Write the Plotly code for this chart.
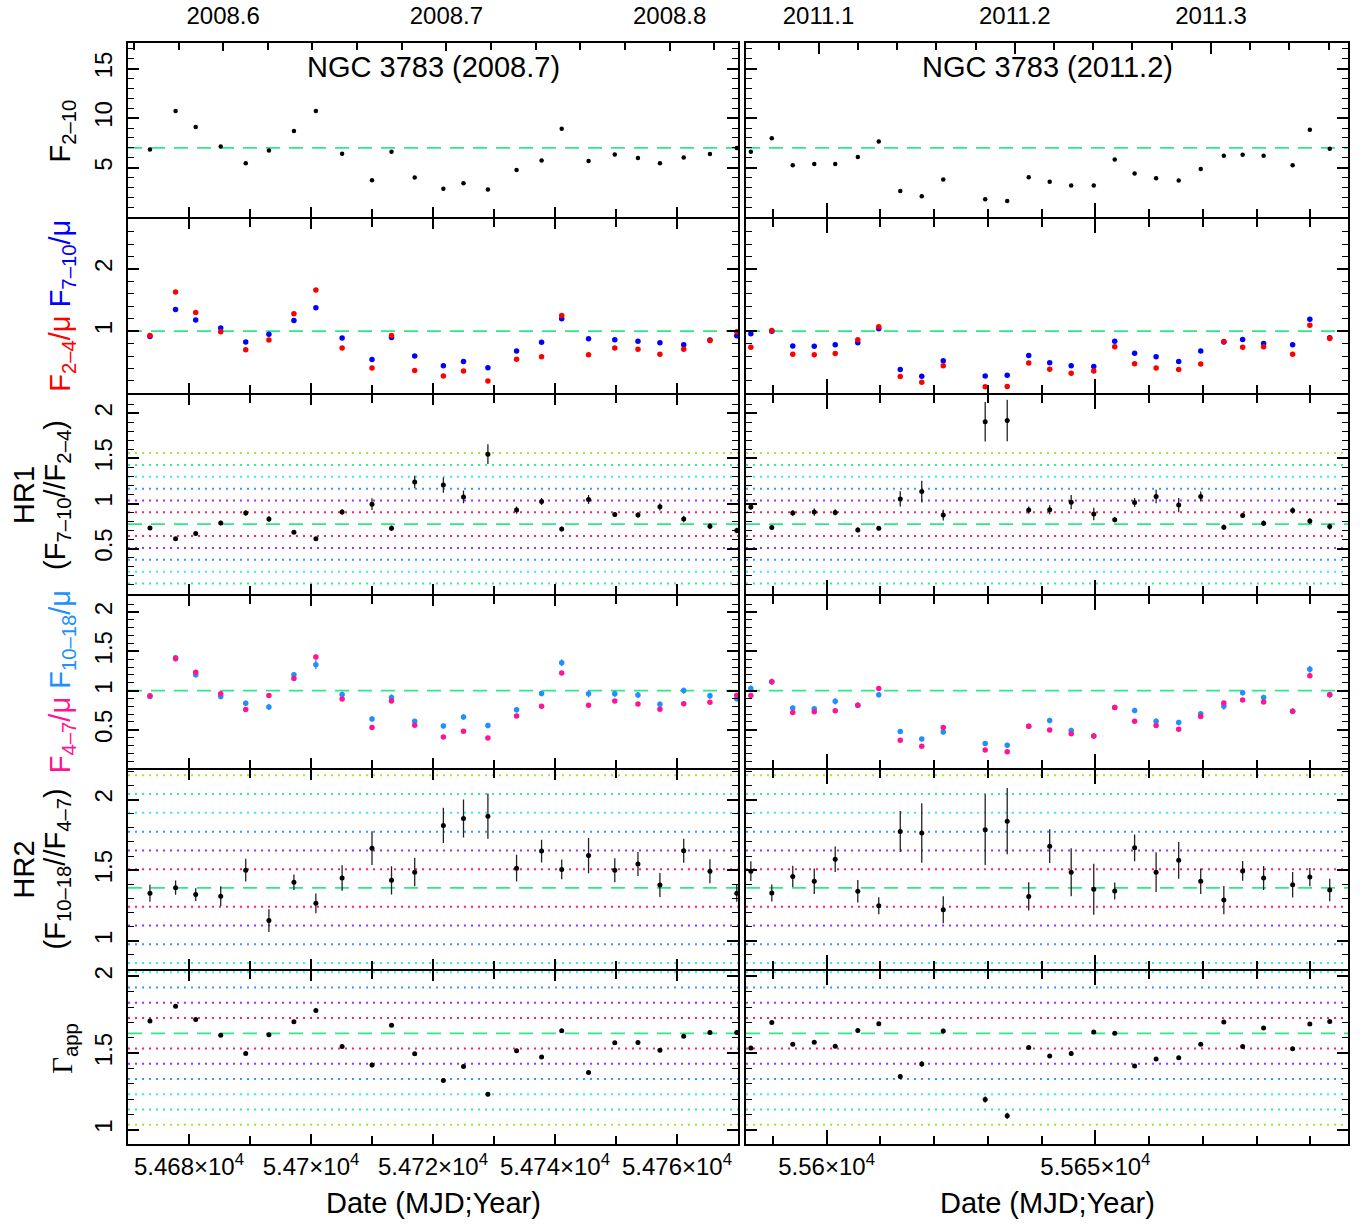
import plotly.graph_objects as go

# ---------------- data ----------------
mjd_2008 = [54673.6, 54677.8, 54681.1, 54685.2, 54689.3, 54693.1, 54697.2, 54700.8, 54705.1,
            54710.0, 54713.2, 54717.0, 54721.7, 54725.0, 54729.0, 54733.7, 54737.8, 54741.1,
            54745.5, 54749.8, 54753.6, 54757.2, 54761.1, 54765.4, 54769.8]
mjd_2011 = [55585.9, 55589.8, 55593.7, 55597.7, 55601.6, 55605.8, 55609.7, 55613.7, 55617.7,
            55621.7, 55629.5, 55633.6, 55637.6, 55641.5, 55645.5, 55649.7, 55653.6, 55657.3,
            55661.3, 55665.5, 55669.6, 55673.9, 55677.4, 55681.3, 55686.7, 55689.9, 55693.6]

# F(2-10)
f210_2008 = [6.83, 10.73, 9.1, 7.13, 5.43, 6.73, 8.7, 10.73, 6.4, 3.73, 6.6, 4.0, 2.87, 3.43, 2.8,
             4.77, 5.73, 8.93, 5.67, 6.33, 5.97, 5.43, 6.03, 6.37, 6.97]
f210_2011 = [6.6, 7.97, 5.23, 5.37, 5.37, 6.07, 7.63, 2.63, 2.1, 3.8, 1.8, 1.63, 4.03, 3.57, 3.2,
             3.2, 5.83, 4.4, 3.93, 3.7, 4.87, 6.2, 6.3, 6.2, 5.23, 8.83, 6.9]

# F(2-4)/mu (red) and F(7-10)/mu (blue)
f24_2008 = [0.93, 1.63, 1.30, 0.99, 0.70, 0.86, 1.28, 1.66, 0.73, 0.41, 0.93, 0.37, 0.28, 0.36, 0.20,
            0.55, 0.59, 1.25, 0.62, 0.73, 0.71, 0.63, 0.71, 0.85, 0.99]
f24_2008_err = [0.02, 0.03, 0.03, 0.025, 0.02, 0.02, 0.03, 0.035, 0.02, 0.02, 0.03, 0.015, 0.015,
                0.015, 0.015, 0.015, 0.02, 0.035, 0.02, 0.02, 0.02, 0.025, 0.02, 0.02, 0.02]
f710_2008 = [0.915, 1.35, 1.18, 1.05, 0.825, 0.95, 1.17, 1.375, 0.89, 0.545, 0.90, 0.60, 0.444, 0.513,
             0.413, 0.683, 0.82, 1.20, 0.878, 0.862, 0.836, 0.815, 0.783, 0.857, 0.926]
f710_2008_err = [0.02, 0.03, 0.025, 0.025, 0.02, 0.025, 0.025, 0.03, 0.02, 0.02, 0.025, 0.02, 0.02,
                 0.02, 0.02, 0.02, 0.02, 0.03, 0.025, 0.02, 0.02, 0.02, 0.02, 0.02, 0.02]
f24_2011 = [0.74, 1.01, 0.63, 0.62, 0.64, 0.862, 1.069, 0.27, 0.18, 0.444, 0.106, 0.111, 0.487, 0.39,
            0.323, 0.36, 0.751, 0.476, 0.407, 0.386, 0.471, 0.835, 0.74, 0.75, 0.63, 1.095, 0.884]
f24_2011_err = [0.02, 0.03, 0.02, 0.02, 0.02, 0.025, 0.03, 0.015, 0.015, 0.015, 0.01, 0.01, 0.02,
                0.015, 0.015, 0.015, 0.02, 0.02, 0.015, 0.015, 0.02, 0.025, 0.02, 0.02, 0.02, 0.03, 0.025]
f710_2011 = [0.958, 1.0, 0.762, 0.757, 0.783, 0.815, 1.037, 0.386, 0.275, 0.524, 0.28, 0.29, 0.608,
             0.492, 0.444, 0.434, 0.836, 0.646, 0.587, 0.513, 0.683, 0.825, 0.868, 0.80, 0.783, 1.19, 0.894]
f710_2011_err = [0.025, 0.03, 0.02, 0.02, 0.02, 0.025, 0.03, 0.02, 0.02, 0.025, 0.02, 0.02, 0.025,
                 0.02, 0.02, 0.02, 0.025, 0.02, 0.02, 0.02, 0.025, 0.025, 0.025, 0.02, 0.025, 0.035, 0.025]

# HR1 = F(7-10)/F(2-4)
hr1_2008 = [0.729, 0.609, 0.667, 0.784, 0.894, 0.828, 0.682, 0.609, 0.905, 0.993, 0.726, 1.238,
            1.205, 1.073, 1.548, 0.927, 1.022, 0.718, 1.044, 0.879, 0.872, 0.963, 0.828, 0.748, 0.70]
hr1_2008_err = [0.02, 0.02, 0.02, 0.025, 0.03, 0.03, 0.02, 0.02, 0.03, 0.065, 0.03, 0.07, 0.085,
                0.07, 0.11, 0.04, 0.04, 0.025, 0.05, 0.025, 0.03, 0.04, 0.035, 0.035, 0.03]
hr1_2011 = [0.96, 0.733, 0.894, 0.905, 0.901, 0.707, 0.726, 1.051, 1.132, 0.872, 1.907, 1.921, 0.927,
            0.931, 1.015, 0.883, 0.821, 1.011, 1.077, 0.982, 1.077, 0.737, 0.868, 0.781, 0.923, 0.806, 0.744]
hr1_2011_err = [0.03, 0.025, 0.03, 0.04, 0.035, 0.03, 0.025, 0.085, 0.12, 0.06, 0.22, 0.23, 0.04,
                0.05, 0.08, 0.07, 0.03, 0.05, 0.075, 0.08, 0.055, 0.03, 0.03, 0.03, 0.035, 0.03, 0.035]

# F(4-7)/mu (pink) and F(10-18)/mu (light blue)
f47_2008 = [0.933, 1.404, 1.233, 0.958, 0.758, 0.938, 1.154, 1.429, 0.892, 0.529, 0.867, 0.558, 0.408,
            0.483, 0.396, 0.675, 0.80, 1.225, 0.8125, 0.867, 0.829, 0.762, 0.833, 0.85, 0.94]
f47_2008_err = [0.02, 0.03, 0.025, 0.02, 0.02, 0.02, 0.025, 0.03, 0.02, 0.015, 0.02, 0.015, 0.015,
                0.015, 0.015, 0.02, 0.02, 0.025, 0.02, 0.02, 0.02, 0.02, 0.02, 0.02, 0.02]
f1018_2008 = [0.925, 1.417, 1.20, 0.925, 0.838, 0.792, 1.20, 1.33, 0.95, 0.638, 0.913, 0.608, 0.55,
              0.663, 0.554, 0.754, 0.963, 1.354, 0.958, 0.958, 0.942, 0.825, 1.0, 0.933, 0.896]
f1018_2008_err = [0.03, 0.04, 0.035, 0.035, 0.035, 0.04, 0.035, 0.06, 0.035, 0.035, 0.04, 0.03, 0.03,
                  0.035, 0.035, 0.035, 0.035, 0.045, 0.045, 0.04, 0.04, 0.035, 0.04, 0.04, 0.035]
f47_2011 = [0.9375, 1.1125, 0.721, 0.729, 0.742, 0.8125, 1.025, 0.367, 0.292, 0.529, 0.242, 0.221,
            0.546, 0.496, 0.45, 0.42, 0.783, 0.608, 0.554, 0.508, 0.671, 0.842, 0.879, 0.854, 0.7375,
            1.1875, 0.946]
f47_2011_err = [0.02, 0.025, 0.02, 0.02, 0.02, 0.02, 0.025, 0.015, 0.015, 0.02, 0.015, 0.015, 0.02,
                0.015, 0.015, 0.015, 0.02, 0.02, 0.015, 0.015, 0.02, 0.02, 0.02, 0.02, 0.02, 0.025, 0.02]
f1018_2011 = [1.025, 1.1125, 0.779, 0.767, 0.8625, 0.8125, 0.946, 0.479, 0.383, 0.471, 0.325, 0.304,
              0.546, 0.617, 0.492, 0.42, 0.783, 0.746, 0.608, 0.592, 0.704, 0.80, 0.971, 0.9125, 0.7375,
              1.271, 0.946]
f1018_2011_err = [0.04, 0.04, 0.03, 0.03, 0.04, 0.035, 0.035, 0.03, 0.03, 0.03, 0.03, 0.03, 0.03,
                  0.035, 0.035, 0.035, 0.025, 0.035, 0.035, 0.035, 0.03, 0.045, 0.035, 0.035, 0.035, 0.045, 0.04]

# HR2 = F(10-18)/F(4-7)
hr2_2008 = [1.337, 1.376, 1.327, 1.316, 1.50, 1.143, 1.414, 1.265, 1.444, 1.656, 1.428, 1.486, 1.817,
            1.866, 1.882, 1.514, 1.635, 1.505, 1.603, 1.50, 1.544, 1.395, 1.638, 1.493, 1.337]
hr2_2008_err = [0.06, 0.05, 0.045, 0.07, 0.08, 0.08, 0.055, 0.07, 0.09, 0.12, 0.1, 0.1, 0.125, 0.135,
                0.16, 0.095, 0.08, 0.07, 0.125, 0.085, 0.085, 0.085, 0.085, 0.085, 0.06]
hr2_2011 = [1.493, 1.339, 1.456, 1.421, 1.577, 1.351, 1.248, 1.773, 1.763, 1.22, 1.787, 1.847, 1.314,
            1.67, 1.486, 1.365, 1.353, 1.658, 1.486, 1.57, 1.421, 1.288, 1.495, 1.444, 1.397, 1.451, 1.36]
hr2_2011_err = [0.07, 0.06, 0.075, 0.09, 0.09, 0.08, 0.06, 0.145, 0.21, 0.095, 0.25, 0.235, 0.1, 0.12,
                0.17, 0.18, 0.06, 0.095, 0.14, 0.13, 0.09, 0.1, 0.07, 0.085, 0.09, 0.065, 0.08]

# apparent photon index
gam_2008 = [1.709, 1.805, 1.719, 1.616, 1.498, 1.62, 1.704, 1.777, 1.543, 1.423, 1.681, 1.496, 1.321,
            1.412, 1.231, 1.515, 1.474, 1.646, 1.373, 1.567, 1.569, 1.519, 1.61, 1.635, 1.635]
gam_2008_err = [0.01, 0.01, 0.01, 0.01, 0.01, 0.01, 0.01, 0.01, 0.01, 0.015, 0.01, 0.012, 0.012,
                0.012, 0.012, 0.01, 0.01, 0.01, 0.012, 0.01, 0.01, 0.01, 0.01, 0.01, 0.01]
gam_2011 = [1.534, 1.70, 1.558, 1.571, 1.545, 1.648, 1.691, 1.347, 1.429, 1.644, 1.197, 1.091, 1.537,
            1.481, 1.498, 1.638, 1.629, 1.416, 1.461, 1.47, 1.558, 1.702, 1.543, 1.663, 1.528, 1.689, 1.706]
gam_2011_err = [0.01, 0.01, 0.01, 0.01, 0.01, 0.012, 0.01, 0.015, 0.02, 0.015, 0.02, 0.02, 0.01,
                0.012, 0.015, 0.012, 0.01, 0.01, 0.012, 0.012, 0.01, 0.01, 0.01, 0.01, 0.01, 0.01, 0.01]

# reference levels: mean (dashed) and the spacing of the dotted levels
row_means = [7.0, 1.0, 0.770, 1.0, 1.374, 1.629]
row_steps = [None, None, 0.1316, None, 0.1329, 0.0995]

# axis ranges and ticks
x_ranges = [[54670, 54770], [55585, 55697]]
x_ticks = [[54680, 54700, 54720, 54740, 54760], [55600, 55650]]
year_ticks = [[2008.6, 2008.7, 2008.8], [2011.1, 2011.2, 2011.3]]
y_ranges = [[0, 17.6], [0, 2.8], [0, 2.2], [0.015, 2.21], [0.8, 2.21], [0.905, 2.035]]
y_ticks = [[5, 10, 15], [1, 2], [0.5, 1, 1.5, 2], [0.5, 1, 1.5, 2], [1, 1.5, 2], [1, 1.5, 2]]
y_minor = [1, 0.2, 0.1, 0.1, 0.1, 0.1]

# ---------------- styling ----------------
W, H = 1366, 1227
FONT = "Liberation Sans, Arial, Helvetica, sans-serif"
RED, BLUE = "#ff0000", "#0000ff"
PINK, LBLUE = "#ff1493", "#1e90ff"
DASH_GREEN = "#2ee888"
SIG_COLORS = ["#ff2266", "#9933ff", "#3399ff", "#33eeee", "#33ee99", "#99ee33"]
LW = 2
col_px = [(128, 738), (746, 1348)]
row_edges = [38, 214, 391, 592, 767, 969, 1144]


def yr_2008(m):
    return 2008 + (m - 54466) / 366.0


def yr_2011(m):
    return 2011 + (m - 55562) / 365.0


yr_funcs = [yr_2008, yr_2011]


def xdom(c):
    a, b = col_px[c]
    return [a / W, b / W]


def ydom(r):
    # leave a line-width gap at shared row boundaries so the frame lines coincide
    t = row_edges[r] + (LW / 2 if r > 0 else 0)
    b = row_edges[r + 1] - (LW / 2 if r < 5 else 0)
    return [1 - b / H, 1 - t / H]


def ax_id(i):
    return "" if i == 1 else str(i)


fig = go.Figure()

mjds = [mjd_2008, mjd_2011]
series = [
    (0, [([f210_2008, f210_2011], None, "black", 4.5)]),
    (1, [([f710_2008, f710_2011], [f710_2008_err, f710_2011_err], BLUE, 5.5),
         ([f24_2008, f24_2011], [f24_2008_err, f24_2011_err], RED, 5.5)]),
    (2, [([hr1_2008, hr1_2011], [hr1_2008_err, hr1_2011_err], "black", 5)]),
    (3, [([f1018_2008, f1018_2011], [f1018_2008_err, f1018_2011_err], LBLUE, 5.5),
         ([f47_2008, f47_2011], [f47_2008_err, f47_2011_err], PINK, 5.5)]),
    (4, [([hr2_2008, hr2_2011], [hr2_2008_err, hr2_2011_err], "black", 5)]),
    (5, [([gam_2008, gam_2011], [gam_2008_err, gam_2011_err], "black", 5)]),
]

for r, sets in series:
    for c in range(2):
        i = r * 2 + c + 1
        for vals, errs, color, size in sets:
            err = None
            if errs is not None:
                ecol = "#222222" if color == "black" else color
                err = dict(type="data", array=errs[c], visible=True, width=0,
                           thickness=1.3, color=ecol)
            fig.add_trace(go.Scatter(
                x=mjds[c], y=vals[c], mode="markers",
                marker=dict(color=color, size=size, line=dict(width=0)),
                error_y=err, showlegend=False, hoverinfo="x+y",
                xaxis="x" + ax_id(i), yaxis="y" + ax_id(i)))

# empty traces to register the top (year) axes
fig.add_trace(go.Scatter(x=[], y=[], xaxis="x13", yaxis="y", showlegend=False))
fig.add_trace(go.Scatter(x=[], y=[], xaxis="x14", yaxis="y2", showlegend=False))

layout = dict(width=W, height=H, margin=dict(l=0, r=0, t=0, b=0),
              paper_bgcolor="white", plot_bgcolor="white", showlegend=False,
              font=dict(family=FONT, size=24, color="black"))

tickfont = dict(family=FONT, size=24, color="black")
shapes = []
for r in range(6):
    for c in range(2):
        i = r * 2 + c + 1
        xcfg = dict(
            domain=xdom(c), anchor="y" + ax_id(i), range=x_ranges[c],
            showgrid=False, zeroline=False, showline=True, linecolor="black", linewidth=LW,
            mirror=True if r == 0 else "ticks",
            ticks="inside", ticklen=10 if c == 0 else 14, tickwidth=1.6, tickcolor="black",
            tickmode="array", tickvals=x_ticks[c],
            ticktext=[f"{v / 1e4:g}×10<sup>4</sup>" for v in x_ticks[c]],
            showticklabels=(r == 5), tickfont=tickfont, ticklabelstandoff=0,
            minor=dict(dtick=10, tick0=0, ticks="inside", ticklen=8, tickwidth=1.6,
                       tickcolor="black", showgrid=False),
        )
        ycfg = dict(
            domain=ydom(r), anchor="x" + ax_id(i), range=y_ranges[r],
            showgrid=False, zeroline=False, showline=True, linecolor="black", linewidth=LW,
            mirror="ticks", ticks="inside", ticklen=11, tickwidth=1.6, tickcolor="black",
            tickmode="array", tickvals=y_ticks[r], ticktext=[f"{v:g}" for v in y_ticks[r]],
            showticklabels=(c == 0), tickangle=-90, tickfont=tickfont, ticklabelstandoff=4,
            minor=dict(dtick=y_minor[r], tick0=0, ticks="inside", ticklen=6, tickwidth=1.4,
                       tickcolor="black", showgrid=False),
        )
        layout["xaxis" + ax_id(i)] = xcfg
        layout["yaxis" + ax_id(i)] = ycfg

        xref = "x" + ax_id(i) + " domain"
        yref = "y" + ax_id(i)
        if row_steps[r] is not None:
            lo, hi = y_ranges[r]
            for k in range(1, 7):
                for sgn in (1, -1):
                    lvl = row_means[r] + sgn * k * row_steps[r]
                    if lo < lvl < hi:
                        shapes.append(dict(type="line", xref=xref, yref=yref, x0=0, x1=1,
                                           y0=lvl, y1=lvl, layer="below",
                                           line=dict(color=SIG_COLORS[k - 1], width=2,
                                                     dash="2px,5px")))
        shapes.append(dict(type="line", xref=xref, yref=yref, x0=0, x1=1,
                           y0=row_means[r], y1=row_means[r], layer="below",
                           line=dict(color=DASH_GREEN, width=1.8, dash="14px,9px")))

# top year axes
for c in range(2):
    base = "x" + ax_id(c + 1)
    f = yr_funcs[c]
    layout["xaxis" + str(13 + c)] = dict(
        overlaying=base, anchor="y" + ax_id(c + 1), side="top",
        range=[f(x_ranges[c][0]), f(x_ranges[c][1])],
        showgrid=False, zeroline=False, showline=False,
        ticks="inside", ticklen=11 if c == 1 else 8, tickwidth=1.6, tickcolor="black",
        tickmode="array", tickvals=year_ticks[c], ticktext=[f"{v:.1f}" for v in year_ticks[c]],
        tickfont=tickfont, ticklabelstandoff=13,
        minor=dict(dtick=0.02, tick0=2000, ticks="inside", ticklen=7, tickwidth=1.6,
                   tickcolor="black", showgrid=False),
    )

layout["shapes"] = shapes


def px_x(p):
    return p / W


def px_y(p):
    return 1 - p / H


TFS = 29
ann = []
ann.append(dict(text="NGC 3783 (2008.7)", x=px_x(433), y=px_y(62)))
ann.append(dict(text="NGC 3783 (2011.2)", x=px_x(1047), y=px_y(62)))
ann.append(dict(text="Date (MJD;Year)", x=px_x(433), y=px_y(1203)))
ann.append(dict(text="Date (MJD;Year)", x=px_x(1047), y=px_y(1203)))
ann.append(dict(text="F<sub>2–10</sub>", x=px_x(62), y=px_y(127), textangle=-90))
ann.append(dict(text=f"<span style='color:{RED}'>F<sub>2–4</sub>/μ</span> "
                     f"<span style='color:{BLUE}'>F<sub>7–10</sub>/μ</span>",
                x=px_x(62), y=px_y(302), textangle=-90))
ann.append(dict(text="HR1", x=px_x(24), y=px_y(492), textangle=-90))
ann.append(dict(text="(F<sub>7–10</sub>//F<sub>2–4</sub>)", x=px_x(57), y=px_y(492), textangle=-90))
ann.append(dict(text=f"<span style='color:{PINK}'>F<sub>4–7</sub>/μ</span> "
                     f"<span style='color:{LBLUE}'>F<sub>10–18</sub>/μ</span>",
                x=px_x(62), y=px_y(680), textangle=-90))
ann.append(dict(text="HR2", x=px_x(24), y=px_y(868), textangle=-90))
ann.append(dict(text="(F<sub>10–18</sub>//F<sub>4–7</sub>)", x=px_x(57), y=px_y(868), textangle=-90))
ann.append(dict(text="<span style='font-family:Liberation Serif, Times New Roman, serif'>Γ</span>"
                     "<sub>app</sub>", x=px_x(64), y=px_y(1048), textangle=-90))
for a in ann:
    a.update(xref="paper", yref="paper", xanchor="center", yanchor="middle", showarrow=False,
             font=dict(family=FONT, size=TFS, color="black"))
layout["annotations"] = ann

fig.update_layout(**layout)
fig.write_html("out.html")
